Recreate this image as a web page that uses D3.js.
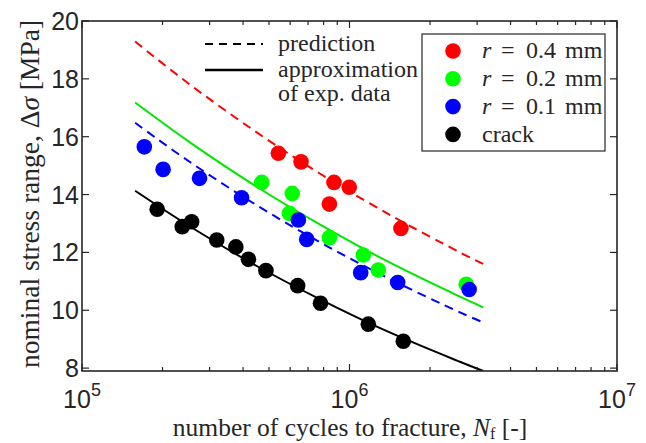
<!DOCTYPE html>
<html>
<head>
<meta charset="utf-8">
<script src="https://cdn.jsdelivr.net/npm/d3@7"></script>
<style>
  body { margin: 0; background: #fff; }
  svg { display: block; }
</style>
</head>
<body>
<div id="chart"></div>
<script>
// measured points, N in cycles, stress in MPa
const redN = [5.42e5, 6.59e5, 8.75e5, 9.98e5, 8.41e5, 1.557e6];
const redS = [15.43, 15.13, 14.42, 14.25, 13.67, 12.83];
const greenN = [4.70e5, 6.11e5, 5.96e5, 8.41e5, 1.126e6, 1.281e6, 2.73e6];
const greenS = [14.42, 14.04, 13.35, 12.51, 11.91, 11.39, 10.90];
const blueN = [1.71e5, 2.01e5, 2.75e5, 3.95e5, 6.44e5, 6.92e5, 1.101e6, 1.514e6, 2.80e6];
const blueS = [15.65, 14.87, 14.56, 13.89, 13.12, 12.45, 11.30, 10.96, 10.72];
const crackN = [1.91e5, 2.37e5, 2.57e5, 3.19e5, 3.76e5, 4.19e5, 4.87e5, 6.40e5, 7.79e5, 1.176e6, 1.589e6];
const crackS = [13.49, 12.89, 13.06, 12.43, 12.19, 11.76, 11.37, 10.85, 10.24, 9.52, 8.93];

// curves
const curveN = [1.58e5, 2.5e5, 4.5e5, 7.8e5, 1.4e6, 2.6e6, 3.16e6];
const predRed = [19.29, 17.84, 16.15, 14.71, 13.32, 11.99, 11.60];
const approxGreen = [17.18, 15.84, 14.27, 12.95, 11.67, 10.46, 10.10];
const predBlue = [16.48, 15.16, 13.63, 12.34, 11.10, 9.92, 9.58];
const approxCrack = [14.13, 12.93, 11.53, 10.37, 9.25, 8.21, 7.90];

const legendLabels = ["0.4", "0.2", "0.1", "crack"];
const yTicks = [8, 10, 12, 14, 16, 18, 20];
const xMajor = [5, 6, 7];

const W = 646, H = 443;
const mL = 82, mR = 617, mT = 21, mB = 371;
const SANS = "'Liberation Sans', Arial, Helvetica, sans-serif";
const SERIF = "'Liberation Serif', 'Times New Roman', Times, serif";
const axisCol = "#262626";

const svg = d3.select("#chart").append("svg")
    .attr("width", W).attr("height", H);

const x = d3.scaleLog().domain([1e5, 1e7]).range([mL, mR]);
const y = d3.scaleLinear().domain([7.9, 20]).range([mB, mT]);

svg.append("defs").append("clipPath").attr("id", "plot")
  .append("rect").attr("x", mL).attr("y", mT)
  .attr("width", mR - mL).attr("height", mB - mT);

// curves
const line = d3.line().x(d => x(d[0])).y(d => y(d[1])).curve(d3.curveCatmullRom);
const curves = [
  { s: predRed, c: "#ff0000", dash: "9,6" },
  { s: approxGreen, c: "#00e600", dash: null },
  { s: predBlue, c: "#0000ff", dash: "9,6" },
  { s: approxCrack, c: "#000000", dash: null }
];
const gl = svg.append("g").attr("clip-path", "url(#plot)");
curves.forEach(cv => {
  gl.append("path")
    .datum(curveN.map((n, i) => [n, cv.s[i]]))
    .attr("d", line)
    .attr("fill", "none")
    .attr("stroke", cv.c)
    .attr("stroke-width", 2)
    .attr("stroke-dasharray", cv.dash);
});

// points
const series = [
  { n: redN, s: redS, c: "#ff0000" },
  { n: greenN, s: greenS, c: "#00ff00" },
  { n: blueN, s: blueS, c: "#0000ff" },
  { n: crackN, s: crackS, c: "#000000" }
];
series.forEach(se => {
  svg.append("g").selectAll("circle")
    .data(se.n.map((n, i) => [n, se.s[i]]))
    .join("circle")
    .attr("cx", d => x(d[0]))
    .attr("cy", d => y(d[1]))
    .attr("r", 7.8)
    .attr("fill", se.c);
});

// frame and ticks
svg.append("rect").attr("x", mL).attr("y", mT)
  .attr("width", mR - mL).attr("height", mB - mT)
  .attr("fill", "none").attr("stroke", axisCol).attr("stroke-width", 1.6);

const minor = [];
[5, 6].forEach(e => { for (let k = 2; k <= 9; k++) minor.push(k * Math.pow(10, e)); });
const tk = svg.append("g").attr("stroke", axisCol).attr("stroke-width", 1.2);
minor.forEach(v => {
  tk.append("line").attr("x1", x(v)).attr("x2", x(v)).attr("y1", mB).attr("y2", mB - 4);
  tk.append("line").attr("x1", x(v)).attr("x2", x(v)).attr("y1", mT).attr("y2", mT + 4);
});
xMajor.forEach(e => {
  const v = Math.pow(10, e);
  tk.append("line").attr("x1", x(v)).attr("x2", x(v)).attr("y1", mB).attr("y2", mB - 7);
  tk.append("line").attr("x1", x(v)).attr("x2", x(v)).attr("y1", mT).attr("y2", mT + 7);
});
yTicks.forEach(v => {
  tk.append("line").attr("x1", mL).attr("x2", mL + 7).attr("y1", y(v)).attr("y2", y(v));
  tk.append("line").attr("x1", mR).attr("x2", mR - 7).attr("y1", y(v)).attr("y2", y(v));
});

// tick labels
svg.append("g").selectAll("text").data(yTicks).join("text")
  .attr("font-family", SANS).attr("font-size", 25).attr("fill", axisCol)
  .attr("x", mL - 3).attr("y", d => y(d)).attr("dy", "0.36em")
  .attr("text-anchor", "end")
  .text(d => d);

xMajor.forEach(e => {
  const t = svg.append("text").attr("font-family", SANS).attr("font-size", 25).attr("fill", axisCol)
    .attr("x", x(Math.pow(10, e))).attr("y", 408)
    .attr("text-anchor", "middle");
  t.append("tspan").text("10");
  t.append("tspan").attr("dy", -12).attr("font-size", 18).text(e);
});

// axis titles
const xt = svg.append("text").attr("font-family", SERIF).attr("fill", axisCol)
  .attr("x", 350).attr("y", 436)
  .attr("text-anchor", "middle").attr("font-size", 25.5);
xt.append("tspan").text("number of cycles to fracture, ");
xt.append("tspan").attr("font-style", "italic").text("N");
xt.append("tspan").attr("font-size", 16).attr("dy", 3).text("f");
xt.append("tspan").attr("dy", -3).text(" [-]");

const yt = svg.append("text").attr("font-family", SERIF).attr("fill", axisCol)
  .attr("transform", `translate(39,${(mT + mB) / 2 - 2}) rotate(-90)`)
  .attr("text-anchor", "middle").attr("font-size", 27.5);
yt.append("tspan").text("nominal stress range, Δ");
yt.append("tspan").attr("font-style", "italic").text("σ");
yt.append("tspan").text(" [MPa]");

// line-style legend
const l1 = svg.append("g");
l1.append("line").attr("x1", 205).attr("x2", 263).attr("y1", 44).attr("y2", 44)
  .attr("stroke", "#000").attr("stroke-width", 2).attr("stroke-dasharray", "8,6");
l1.append("line").attr("x1", 205).attr("x2", 263).attr("y1", 70).attr("y2", 70)
  .attr("stroke", "#000").attr("stroke-width", 2.5);
[["prediction", 44], ["approximation", 70], ["of exp. data", 94]].forEach(d => {
  l1.append("text").attr("font-family", SERIF).attr("font-size", 24).attr("fill", axisCol)
    .attr("x", 278).attr("y", d[1]).attr("dy", "0.3em").text(d[0]);
});

// marker legend
const lg = svg.append("g");
lg.append("rect").attr("x", 422).attr("y", 34).attr("width", 183).attr("height", 117)
  .attr("fill", "#fff").attr("stroke", axisCol).attr("stroke-width", 1.2);
series.forEach((se, i) => {
  const cy = 51 + i * 27.8;
  lg.append("circle").attr("cx", 453).attr("cy", cy).attr("r", 7.8).attr("fill", se.c);
  const t = lg.append("text").attr("font-family", SERIF).attr("font-size", 24).attr("fill", axisCol)
    .attr("x", 482).attr("y", cy).attr("dy", "0.3em");
  if (legendLabels[i] === "crack") {
    t.text("crack");
  } else {
    t.append("tspan").attr("font-style", "italic").text("r");
    t.append("tspan").attr("x", 501).text("=");
    t.append("tspan").attr("x", 526).text(legendLabels[i]);
    t.append("tspan").attr("x", 565).text("mm");
  }
});
</script>
</body>
</html>
